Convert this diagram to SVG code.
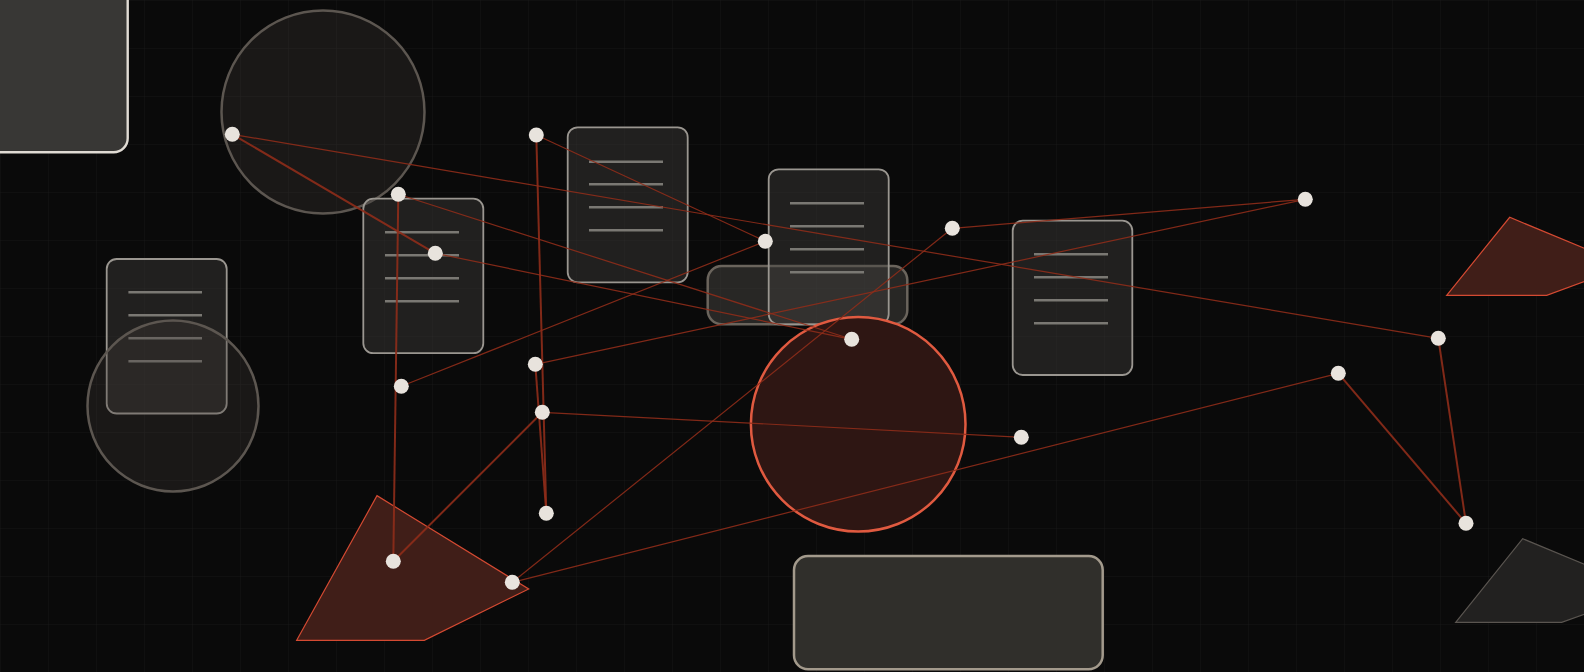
<svg xmlns="http://www.w3.org/2000/svg" width="1584" height="672" viewBox="0 0 1584 672">
  <defs>
    <pattern id="grid" width="48" height="48" patternUnits="userSpaceOnUse">
      <path d="M48 0 L0 0 0 48" fill="none" stroke="#161616" stroke-width="1"/>
    </pattern>
    <style>
      .card { fill: rgba(67,65,62,0.4); stroke: #9a9690; stroke-width: 1.8; }
      .cline { stroke: #7a7873; stroke-width: 2.4; }
      .ghost { fill: rgba(65,60,55,0.3); stroke: #5c5650; stroke-width: 2.5; }
      .poly { fill: #401e18; stroke: #d44a32; stroke-width: 1.2; }
      .poly2 { fill: #222120; stroke: #5a5550; stroke-width: 1.2; }
      .e { stroke: #8e2c1a; stroke-opacity: 0.9; stroke-width: 1.2; fill: none; }
      .t { stroke-width: 2; }
      .dot { fill: #e8e3dd; }
    </style>
  </defs>
  <rect x="0" y="0" width="1584" height="672" fill="#0a0a0a"/>
  <rect x="0" y="0" width="1584" height="672" fill="url(#grid)"/>

  <g id="panel-topleft">
    <rect x="-30" y="-30" width="157.7" height="182.3" rx="14" fill="#383735" stroke="#e0dbd4" stroke-width="2.4"/>
  </g>
  <g id="circle-1">
    <circle cx="323" cy="112" r="101.5" class="ghost"/>
  </g>
  <g id="card-a">
    <rect x="106.7" y="259" width="120" height="154.5" rx="10" class="card"/>
    <line x1="128.4" y1="292.3" x2="202" y2="292.3" class="cline"/>
    <line x1="128.4" y1="315.3" x2="202" y2="315.3" class="cline"/>
    <line x1="128.4" y1="338.3" x2="202" y2="338.3" class="cline"/>
    <line x1="128.4" y1="361.3" x2="202" y2="361.3" class="cline"/>
  </g>
  <g id="circle-2">
    <circle cx="173" cy="406" r="85.5" class="ghost"/>
  </g>
  <g id="card-b">
    <rect x="363.3" y="198.7" width="120" height="154.5" rx="10" class="card"/>
    <line x1="385" y1="232.3" x2="459" y2="232.3" class="cline"/>
    <line x1="385" y1="255.3" x2="459" y2="255.3" class="cline"/>
    <line x1="385" y1="278.3" x2="459" y2="278.3" class="cline"/>
    <line x1="385" y1="301.3" x2="459" y2="301.3" class="cline"/>
  </g>
  <g id="card-c">
    <rect x="567.7" y="127.3" width="120" height="155" rx="10" class="card"/>
    <line x1="589" y1="161.7" x2="663" y2="161.7" class="cline"/>
    <line x1="589" y1="184.3" x2="663" y2="184.3" class="cline"/>
    <line x1="589" y1="207.3" x2="663" y2="207.3" class="cline"/>
    <line x1="589" y1="230.3" x2="663" y2="230.3" class="cline"/>
  </g>
  <g id="bar-middle">
    <rect x="707.7" y="266" width="199.6" height="58.3" rx="14" fill="rgba(70,68,64,0.5)" stroke="#6a645c" stroke-width="2.5"/>
  </g>
  <g id="card-d">
    <rect x="768.7" y="169.3" width="120" height="155" rx="10" class="card"/>
    <line x1="790" y1="203.3" x2="864" y2="203.3" class="cline"/>
    <line x1="790" y1="226.3" x2="864" y2="226.3" class="cline"/>
    <line x1="790" y1="249.3" x2="864" y2="249.3" class="cline"/>
    <line x1="790" y1="272.3" x2="864" y2="272.3" class="cline"/>
  </g>
  <g id="card-e">
    <rect x="1012.7" y="220.7" width="119.6" height="154.3" rx="10" class="card"/>
    <line x1="1034" y1="254.3" x2="1108" y2="254.3" class="cline"/>
    <line x1="1034" y1="277.3" x2="1108" y2="277.3" class="cline"/>
    <line x1="1034" y1="300.3" x2="1108" y2="300.3" class="cline"/>
    <line x1="1034" y1="323.3" x2="1108" y2="323.3" class="cline"/>
  </g>
  <g id="circle-red">
    <circle cx="858.2" cy="424.2" r="107.3" fill="#2e1613" stroke="#e05a40" stroke-width="2.5"/>
  </g>
  <g id="shape-left">
    <polygon points="296.7,640.3 377,495.7 528.7,589 424.3,640.3" class="poly"/>
  </g>
  <g id="shape-right-top">
    <polygon points="1446.7,295.3 1509.7,217.3 1627,266 1546.7,295.3" class="poly"/>
  </g>
  <g id="shape-right-bottom">
    <polygon points="1455.7,622.3 1522.7,538.7 1649,591 1561.7,622.3" class="poly2"/>
  </g>
  <g id="panel-bottom">
    <rect x="794" y="556" width="308.7" height="113.3" rx="14" fill="#302f2b" stroke="#a39a8c" stroke-width="2.5"/>
  </g>

  <g id="connectors">
    <line x1="232.3" y1="134.3" x2="1438.3" y2="338.3" class="e"/>
    <line x1="232.3" y1="134.3" x2="435.3" y2="253.3" class="e t"/>
    <line x1="435.3" y1="253.3" x2="851.7" y2="339.3" class="e"/>
    <line x1="398.3" y1="194.3" x2="851.7" y2="339.3" class="e"/>
    <line x1="398.3" y1="194.3" x2="393.3" y2="561.3" class="e t"/>
    <line x1="536.3" y1="135" x2="546.3" y2="513.3" class="e t"/>
    <line x1="536.3" y1="135" x2="765.3" y2="241.3" class="e"/>
    <line x1="765.3" y1="241.3" x2="401.3" y2="386.3" class="e"/>
    <line x1="535.3" y1="364.3" x2="1305.3" y2="199.3" class="e"/>
    <line x1="535.3" y1="364.3" x2="546.3" y2="513.3" class="e t"/>
    <line x1="952.3" y1="228.3" x2="1305.3" y2="199.3" class="e"/>
    <line x1="952.3" y1="228.3" x2="512.3" y2="582.3" class="e" stroke-width="1.7"/>
    <line x1="512.3" y1="582.3" x2="1338.3" y2="373.3" class="e"/>
    <line x1="1338.3" y1="373.3" x2="1466" y2="523.3" class="e t"/>
    <line x1="1438.3" y1="338.3" x2="1466" y2="523.3" class="e t"/>
    <line x1="542.3" y1="412.3" x2="1021.3" y2="437.3" class="e"/>
    <line x1="542.3" y1="412.3" x2="393.3" y2="561.3" class="e t"/>
  </g>

  <g id="points">
    <circle cx="232.3" cy="134.3" r="7.5" class="dot"/>
    <circle cx="398.3" cy="194.3" r="7.5" class="dot"/>
    <circle cx="435.3" cy="253.3" r="7.5" class="dot"/>
    <circle cx="536.3" cy="135" r="7.5" class="dot"/>
    <circle cx="535.3" cy="364.3" r="7.5" class="dot"/>
    <circle cx="765.3" cy="241.3" r="7.5" class="dot"/>
    <circle cx="952.3" cy="228.3" r="7.5" class="dot"/>
    <circle cx="851.7" cy="339.3" r="7.5" class="dot"/>
    <circle cx="393.3" cy="561.3" r="7.5" class="dot"/>
    <circle cx="512.3" cy="582.3" r="7.5" class="dot"/>
    <circle cx="1466" cy="523.3" r="7.5" class="dot"/>
    <circle cx="1305.3" cy="199.3" r="7.5" class="dot"/>
    <circle cx="1438.3" cy="338.3" r="7.5" class="dot"/>
    <circle cx="1338.3" cy="373.3" r="7.5" class="dot"/>
    <circle cx="1021.3" cy="437.3" r="7.5" class="dot"/>
    <circle cx="401.3" cy="386.3" r="7.5" class="dot"/>
    <circle cx="542.3" cy="412.3" r="7.5" class="dot"/>
    <circle cx="546.3" cy="513.3" r="7.5" class="dot"/>
  </g>
</svg>
